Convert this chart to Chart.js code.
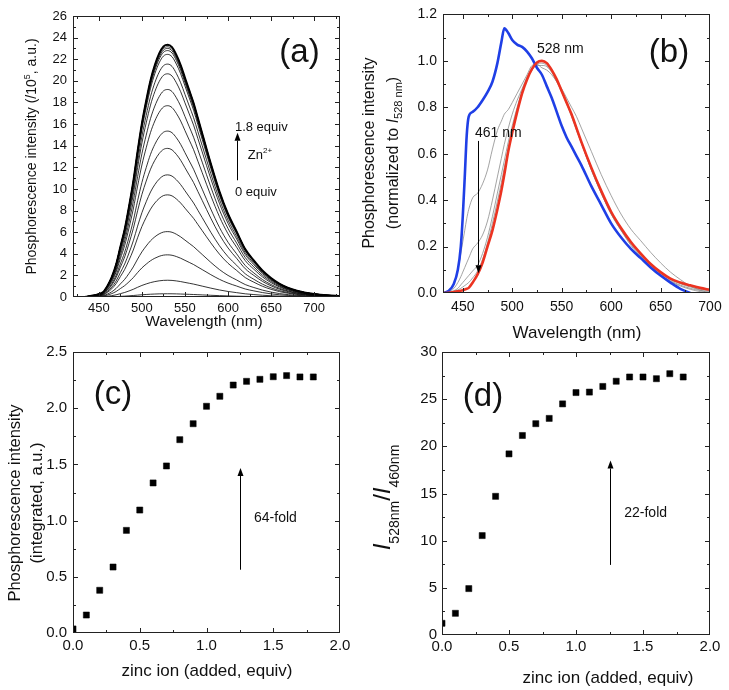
<!DOCTYPE html>
<html>
<head>
<meta charset="utf-8">
<script src="https://cdn.jsdelivr.net/npm/chart.js@4.4.1/dist/chart.umd.min.js"></script>
<style>
  html, body { margin: 0; padding: 0; background: #fff; }
  #fig { position: relative; width: 729px; height: 690px; overflow: hidden; background: #fff; }
  #fig canvas { position: absolute; }
  .fr { position: absolute; pointer-events: none; z-index: 5; background: #222; }
</style>
</head>
<body>
<div id="fig">
  <canvas id="chartA" width="365" height="335" style="left:0px;top:0px"></canvas>
  <canvas id="chartB" width="379" height="345" style="left:350px;top:0px"></canvas>
  <canvas id="chartC" width="365" height="355" style="left:0px;top:335px"></canvas>
  <canvas id="chartD" width="364" height="355" style="left:365px;top:335px"></canvas>
</div>
<script>
/* ---------------- data ---------------- */

// (a) spectra: band profile (normalised at 528 nm) and peak height of each titration step
const wlA = [420, 430, 440, 445, 450, 455, 460, 465, 470, 475, 480, 485, 490, 495, 500, 505, 510, 515, 520, 525, 530,
  535, 540, 545, 550, 555, 560, 565, 570, 580, 590, 600, 610, 620, 630, 640, 650, 660, 670, 680, 690, 700, 715, 730];
const shapeA = [0, 0, 0.004, 0.007, 0.012, 0.02, 0.045, 0.08, 0.13, 0.20, 0.27, 0.36, 0.46, 0.58, 0.69, 0.78, 0.86, 0.92, 0.965, 0.993, 1.0,
  0.99, 0.96, 0.92, 0.87, 0.82, 0.77, 0.71, 0.65, 0.53, 0.42, 0.33, 0.26, 0.19, 0.145, 0.105, 0.075, 0.052, 0.036, 0.025, 0.017, 0.012, 0.007, 0.004];
const peakA = [0.3, 1.55, 3.9, 6.05, 9.45, 11.3, 13.75, 15.35, 17.7, 19.2, 20.65, 21.55, 22.45, 22.8, 23.0, 23.15, 23.3, 23.3, 23.35];
const xTicksA = [450, 500, 550, 600, 650, 700];
const yTicksA = [0, 2, 4, 6, 8, 10, 12, 14, 16, 18, 20, 22, 24, 26];

// (b) normalised spectra
const wlB = [430, 436, 441, 445, 448, 450, 452, 454, 456, 460, 465, 470, 475, 480, 485, 489, 492, 496, 500, 505, 510, 515, 520,
  525, 530, 535, 540, 545, 550, 555, 560, 565, 570, 580, 590, 600, 610, 620, 630, 640, 650, 660, 670, 680, 690, 700];
const blueB = [0, 0.01, 0.04, 0.10, 0.20, 0.33, 0.50, 0.68, 0.76, 0.78, 0.80, 0.83, 0.865, 0.91, 0.99, 1.08, 1.14, 1.12, 1.09, 1.07, 1.06, 1.04, 1.01,
  0.97, 0.94, 0.89, 0.84, 0.78, 0.72, 0.67, 0.63, 0.59, 0.55, 0.46, 0.38, 0.30, 0.24, 0.19, 0.15, 0.11, 0.075, 0.045, 0.018, 0, null, null];
const redB = [0, 0.001, 0.004, 0.007, 0.01, 0.012, 0.015, 0.018, 0.022, 0.045, 0.08, 0.13, 0.20, 0.27, 0.36, 0.44, 0.51, 0.61, 0.69, 0.78, 0.86, 0.92, 0.965,
  0.993, 1.0, 0.99, 0.96, 0.92, 0.87, 0.82, 0.77, 0.71, 0.65, 0.54, 0.44, 0.35, 0.28, 0.22, 0.17, 0.125, 0.09, 0.062, 0.045, 0.033, 0.022, 0.014];
const greyB1 = [0, 0.01, 0.04, 0.10, 0.17, 0.22, 0.27, 0.32, 0.36, 0.41, 0.43, 0.47, 0.53, 0.62, 0.70, 0.74, 0.77, 0.79, 0.82, 0.86, 0.90, 0.94, 0.98,
  0.985, 0.97, 0.96, 0.94, 0.91, 0.88, 0.84, 0.80, 0.76, 0.71, 0.61, 0.51, 0.42, 0.34, 0.275, 0.225, 0.175, 0.13, 0.09, 0.058, 0.03, 0.012, 0];
const greyB2 = [0, 0.005, 0.02, 0.045, 0.07, 0.09, 0.11, 0.13, 0.15, 0.19, 0.215, 0.25, 0.31, 0.40, 0.50, 0.58, 0.64, 0.71, 0.77, 0.83, 0.88, 0.93, 0.965,
  0.98, 0.98, 0.975, 0.95, 0.91, 0.865, 0.815, 0.76, 0.70, 0.645, 0.53, 0.43, 0.34, 0.27, 0.205, 0.155, 0.11, 0.078, 0.05, 0.03, 0.016, 0.006, 0];
const greyB3 = [0, 0.003, 0.01, 0.02, 0.035, 0.045, 0.055, 0.065, 0.075, 0.095, 0.12, 0.17, 0.24, 0.33, 0.43, 0.51, 0.57, 0.65, 0.72, 0.80, 0.87, 0.92, 0.96,
  0.985, 0.99, 0.98, 0.955, 0.915, 0.87, 0.82, 0.765, 0.705, 0.645, 0.53, 0.43, 0.34, 0.27, 0.21, 0.16, 0.115, 0.08, 0.053, 0.034, 0.02, 0.011, 0.006];
const greyB4 = [0, 0.002, 0.007, 0.013, 0.02, 0.026, 0.032, 0.038, 0.045, 0.065, 0.095, 0.145, 0.215, 0.30, 0.395, 0.475, 0.54, 0.625, 0.70, 0.79, 0.865, 0.92, 0.96,
  0.99, 1.0, 0.99, 0.96, 0.92, 0.87, 0.82, 0.77, 0.71, 0.65, 0.535, 0.435, 0.345, 0.275, 0.215, 0.165, 0.12, 0.085, 0.058, 0.04, 0.026, 0.016, 0.01];
const xTicksB = [450, 500, 550, 600, 650, 700];
const yTicksB = [0, 0.2, 0.4, 0.6, 0.8, 1.0, 1.2];

// (c), (d) titration points
const zincEq = [0, 0.1, 0.2, 0.3, 0.4, 0.5, 0.6, 0.7, 0.8, 0.9, 1.0, 1.1, 1.2, 1.3, 1.4, 1.5, 1.6, 1.7, 1.8];
const intC = [0.036, 0.16, 0.38, 0.587, 0.913, 1.094, 1.335, 1.486, 1.72, 1.862, 2.017, 2.106, 2.206, 2.239, 2.257, 2.28, 2.29, 2.278, 2.278];
const ratioD = [1.24, 2.3, 4.92, 10.54, 14.7, 19.2, 21.15, 22.4, 22.96, 24.5, 25.7, 25.75, 26.35, 26.9, 27.35, 27.35, 27.17, 27.7, 27.35];
const xTicksCD = [0, 0.5, 1.0, 1.5, 2.0];
const yTicksC = [0, 0.5, 1.0, 1.5, 2.0, 2.5];
const yTicksD = [0, 5, 10, 15, 20, 25, 30];

/* ---------------- helpers ---------------- */
const FONT = '"Liberation Sans", Arial, Helvetica, sans-serif';
const TEXT = '#111';
const AXIS = '#222';
Chart.defaults.font.family = FONT;
Chart.defaults.color = TEXT;

const pts = (xs, ys) => xs.map((x, i) => ({ x: x, y: ys[i] }));

function minors(major, min, max) {
  const step = major[1] - major[0];
  const out = [];
  for (let i = 0; i < major.length - 1; i++) out.push((major[i] + major[i + 1]) / 2);
  if (major[0] - step / 2 > min) out.push(major[0] - step / 2);
  if (major[major.length - 1] + step / 2 < max) out.push(major[major.length - 1] + step / 2);
  return out;
}

// list of 1px rectangles (box + inward ticks on all four sides), in canvas pixels
function frameRects(chart, xMajor, yMajor) {
  const a = chart.chartArea, x = chart.scales.x, y = chart.scales.y;
  const l = Math.round(a.left), r = Math.round(a.right) - 1;
  const t = Math.round(a.top), b = Math.round(a.bottom) - 1;
  const out = [[l, t, r - l + 1, 1], [l, b, r - l + 1, 1], [l, t, 1, b - t + 1], [r, t, 1, b - t + 1]];
  [[xMajor, 5], [minors(xMajor, x.min, x.max), 3]].forEach(([vals, len]) => vals.forEach(v => {
    if (v <= x.min || v >= x.max) return;
    const p = Math.round(x.getPixelForValue(v));
    out.push([p, b - len + 1, 1, len], [p, t, 1, len]);
  }));
  [[yMajor, 5], [minors(yMajor, y.min, y.max), 3]].forEach(([vals, len]) => vals.forEach(v => {
    if (v <= y.min || v >= y.max) return;
    const p = Math.round(y.getPixelForValue(v));
    out.push([l, p, len, 1], [r - len + 1, p, len, 1]);
  }));
  return out;
}

// the same frame laid over the canvas as thin divs, so it always sits on top
function overlayFrame(chart, xMajor, yMajor) {
  const fig = document.getElementById('fig');
  const ox = chart.canvas.offsetLeft, oy = chart.canvas.offsetTop;
  frameRects(chart, xMajor, yMajor).forEach(([px, py, w, h]) => {
    const d = document.createElement('div');
    d.className = 'fr';
    d.style.left = (ox + px) + 'px';
    d.style.top = (oy + py) + 'px';
    d.style.width = w + 'px';
    d.style.height = h + 'px';
    fig.appendChild(d);
  });
}

function drawRich(ctx, it, x, y) {
  ctx.save();
  ctx.translate(x, y);
  if (it.rot) ctx.rotate(it.rot);
  const fontOf = p => (p.italic ? 'italic ' : '') + p.size + 'px ' + FONT;
  const widths = it.parts.map(p => { ctx.font = fontOf(p); return ctx.measureText(p.t).width; });
  const total = widths.reduce((s, w) => s + w, 0);
  let cx = it.align === 'left' ? 0 : -total / 2;
  ctx.textAlign = 'left';
  ctx.textBaseline = it.baseline || 'alphabetic';
  ctx.fillStyle = TEXT;
  it.parts.forEach((p, i) => {
    ctx.font = fontOf(p);
    ctx.fillText(p.t, cx, p.dy || 0);
    cx += widths[i];
  });
  ctx.restore();
}

function drawArrow(ctx, x, y1, y2) {
  const dir = y2 < y1 ? -1 : 1;
  const head = 8, half = 3;
  x = Math.round(x) + 0.5;
  ctx.save();
  ctx.strokeStyle = '#000';
  ctx.fillStyle = '#000';
  ctx.lineWidth = 1;
  ctx.beginPath();
  ctx.moveTo(x, y1);
  ctx.lineTo(x, y2 - dir * head);
  ctx.stroke();
  ctx.beginPath();
  ctx.moveTo(x, y2);
  ctx.lineTo(x - half, y2 - dir * head);
  ctx.lineTo(x + half, y2 - dir * head);
  ctx.closePath();
  ctx.fill();
  ctx.restore();
}

// frame, labels and arrows: 'data' items go through the scales, 'px' items in canvas pixels
function decorPlugin(xMajor, yMajor, items, arrows) {
  return {
    id: 'decor',
    afterDraw(chart) {
      const ctx = chart.ctx;
      const x = chart.scales.x, y = chart.scales.y;
      ctx.save();
      ctx.fillStyle = AXIS;
      frameRects(chart, xMajor, yMajor).forEach(([px, py, w, h]) => ctx.fillRect(px, py, w, h));
      ctx.restore();
      items.forEach(it => {
        const px = it.at === 'data' ? x.getPixelForValue(it.x) : it.x;
        const py = it.at === 'data' ? y.getPixelForValue(it.y) : it.y;
        drawRich(ctx, it, px, py);
      });
      arrows.forEach(a => drawArrow(ctx, x.getPixelForValue(a.x), y.getPixelForValue(a.y1), y.getPixelForValue(a.y2)));
    }
  };
}

function axes(o) {
  return {
    x: {
      type: 'linear', min: o.xMin, max: o.xMax,
      grid: { display: false, drawTicks: false }, border: { display: false },
      ticks: { font: { size: o.tick }, color: TEXT, padding: o.xPad, maxRotation: 0, autoSkip: false,
               callback: v => v.toFixed(o.xDec) },
      afterBuildTicks: s => { s.ticks = o.xTicks.map(v => ({ value: v })); },
      afterFit: s => { s.height = o.xH; }
    },
    y: {
      type: 'linear', min: o.yMin, max: o.yMax,
      grid: { display: false, drawTicks: false }, border: { display: false },
      ticks: { font: { size: o.tick }, color: TEXT, padding: o.yPad, autoSkip: false,
               callback: v => v.toFixed(o.yDec) },
      afterBuildTicks: s => { s.ticks = o.yTicks.map(v => ({ value: v })); },
      afterFit: s => { s.width = o.yW; }
    }
  };
}

const baseOpts = (pad, scales) => ({
  responsive: false,
  animation: false,
  layout: { padding: pad },
  plugins: { legend: { display: false }, tooltip: { enabled: false } },
  scales: scales
});

const UP = -Math.PI / 2;

/* ---------------- (a) ---------------- */
const chartA = new Chart(document.getElementById('chartA'), {
  type: 'line',
  data: {
    datasets: peakA.map((pk, i) => ({
      data: pts(wlA, shapeA.map(s => s * pk)),
      borderColor: '#000',
      borderWidth: i === peakA.length - 1 ? 1.8 : 0.8,
      pointRadius: 0,
      cubicInterpolationMode: 'monotone',
      fill: false
    }))
  },
  options: baseOpts({ left: 0, top: 16, right: 25, bottom: 0 },
    axes({ xMin: 420, xMax: 730, yMin: 0, yMax: 26, xTicks: xTicksA, yTicks: yTicksA, xDec: 0, yDec: 0,
           tick: 13, xPad: 4, yPad: 6, xH: 38, yW: 73 })),
  plugins: [
    decorPlugin(xTicksA, yTicksA, [
      { at: 'data', x: 683, y: 22.6, baseline: 'middle', parts: [{ t: '(a)', size: 33 }] },
      { at: 'data', x: 608, y: 15.7, align: 'left', baseline: 'middle', parts: [{ t: '1.8 equiv', size: 13 }] },
      { at: 'data', x: 623, y: 13.1, align: 'left', baseline: 'middle', parts: [{ t: 'Zn', size: 13 }, { t: '2+', size: 8, dy: -5 }] },
      { at: 'data', x: 608, y: 9.7, align: 'left', baseline: 'middle', parts: [{ t: '0 equiv', size: 13 }] },
      { at: 'px', x: 36, y: 156.5, rot: UP, parts: [{ t: 'Phosphorescence intensity (/10', size: 14 }, { t: '5', size: 9, dy: -6 }, { t: ', a.u.)', size: 14 }] },
      { at: 'px', x: 204, y: 326, parts: [{ t: 'Wavelength (nm)', size: 15.5 }] }
    ], [{ x: 610.4, y1: 10.8, y2: 15.2 }])
  ]
});

/* ---------------- (b) ---------------- */
const lineB = (vals, color, width, order) => ({
  data: pts(wlB, vals), borderColor: color, borderWidth: width, pointRadius: 0,
  cubicInterpolationMode: 'monotone', fill: false, order: order, spanGaps: false
});
const chartB = new Chart(document.getElementById('chartB'), {
  type: 'line',
  data: {
    datasets: [
      lineB(greyB1, '#8c8c8c', 0.8, 2),
      lineB(greyB2, '#8c8c8c', 0.8, 2),
      lineB(greyB3, '#8c8c8c', 0.8, 2),
      lineB(greyB4, '#8c8c8c', 0.8, 2),
      lineB(blueB, '#1f3fe6', 2.6, 1),
      lineB(redB, '#ec3321', 2.6, 0)
    ]
  },
  options: baseOpts({ left: 0, top: 13, right: 19, bottom: 0 },
    axes({ xMin: 430, xMax: 700, yMin: 0, yMax: 1.2, xTicks: xTicksB, yTicks: yTicksB, xDec: 0, yDec: 1,
           tick: 14, xPad: 6, yPad: 6, xH: 52, yW: 93 })),
  plugins: [
    decorPlugin(xTicksB, yTicksB, [
      { at: 'data', x: 658.5, y: 1.033, baseline: 'middle', parts: [{ t: '(b)', size: 33 }] },
      { at: 'data', x: 525, y: 1.05, align: 'left', baseline: 'middle', parts: [{ t: '528 nm', size: 14 }] },
      { at: 'data', x: 462.4, y: 0.69, align: 'left', baseline: 'middle', parts: [{ t: '461 nm', size: 14 }] },
      { at: 'px', x: 24, y: 153, rot: UP, parts: [{ t: 'Phosphorescence intensity', size: 16 }] },
      { at: 'px', x: 48, y: 153, rot: UP, parts: [{ t: '(normalized to ', size: 16 }, { t: 'I', size: 16, italic: true },
        { t: '528 nm', size: 11, dy: 4 }, { t: ')', size: 16 }] },
      { at: 'px', x: 227, y: 338, parts: [{ t: 'Wavelength (nm)', size: 17 }] }
    ], [{ x: 465, y1: 0.655, y2: 0.085 }])
  ]
});

/* ---------------- (c) ---------------- */
const squares = vals => ({
  data: pts(zincEq, vals), backgroundColor: '#000', borderColor: '#000',
  pointStyle: 'rect', pointRadius: 4.3, pointBorderWidth: 0.5, showLine: false
});
const chartC = new Chart(document.getElementById('chartC'), {
  type: 'line',
  data: { datasets: [squares(intC)] },
  options: baseOpts({ left: 0, top: 17, right: 25, bottom: 0 },
    axes({ xMin: 0, xMax: 2, yMin: 0, yMax: 2.5, xTicks: xTicksCD, yTicks: yTicksC, xDec: 1, yDec: 1,
           tick: 15, xPad: 4, yPad: 6, xH: 57, yW: 73 })),
  plugins: [
    decorPlugin(xTicksCD, yTicksC, [
      { at: 'data', x: 0.30, y: 2.12, baseline: 'middle', parts: [{ t: '(c)', size: 33 }] },
      { at: 'data', x: 1.356, y: 1.02, align: 'left', baseline: 'middle', parts: [{ t: '64-fold', size: 14 }] },
      { at: 'px', x: 20, y: 168, rot: UP, parts: [{ t: 'Phosphorescence intensity', size: 16.5 }] },
      { at: 'px', x: 41.5, y: 168, rot: UP, parts: [{ t: '(integrated, a.u.)', size: 16.5 }] },
      { at: 'px', x: 207, y: 341, parts: [{ t: 'zinc ion (added, equiv)', size: 17 }] }
    ], [{ x: 1.25, y1: 0.563, y2: 1.468 }])
  ]
});

/* ---------------- (d) ---------------- */
const chartD = new Chart(document.getElementById('chartD'), {
  type: 'line',
  data: { datasets: [squares(ratioD)] },
  options: baseOpts({ left: 0, top: 17, right: 19, bottom: 0 },
    axes({ xMin: 0, xMax: 2, yMin: 0, yMax: 30, xTicks: xTicksCD, yTicks: yTicksD, xDec: 1, yDec: 0,
           tick: 15, xPad: 3, yPad: 5, xH: 55, yW: 77 })),
  plugins: [
    decorPlugin(xTicksCD, yTicksD, [
      { at: 'data', x: 0.306, y: 25.2, baseline: 'middle', parts: [{ t: '(d)', size: 33 }] },
      { at: 'data', x: 1.36, y: 12.96, align: 'left', baseline: 'middle', parts: [{ t: '22-fold', size: 14 }] },
      { at: 'px', x: 25, y: 162.5, rot: UP, parts: [{ t: 'I', size: 24, italic: true }, { t: '528nm', size: 14, dy: 9 },
        { t: '/', size: 24 }, { t: 'I', size: 24, italic: true }, { t: '460nm', size: 14, dy: 9 }] },
      { at: 'px', x: 243, y: 348, parts: [{ t: 'zinc ion (added, equiv)', size: 17 }] }
    ], [{ x: 1.255, y1: 7.43, y2: 18.5 }])
  ]
});

overlayFrame(chartA, xTicksA, yTicksA);
overlayFrame(chartB, xTicksB, yTicksB);
overlayFrame(chartC, xTicksCD, yTicksC);
overlayFrame(chartD, xTicksCD, yTicksD);
</script>
</body>
</html>
